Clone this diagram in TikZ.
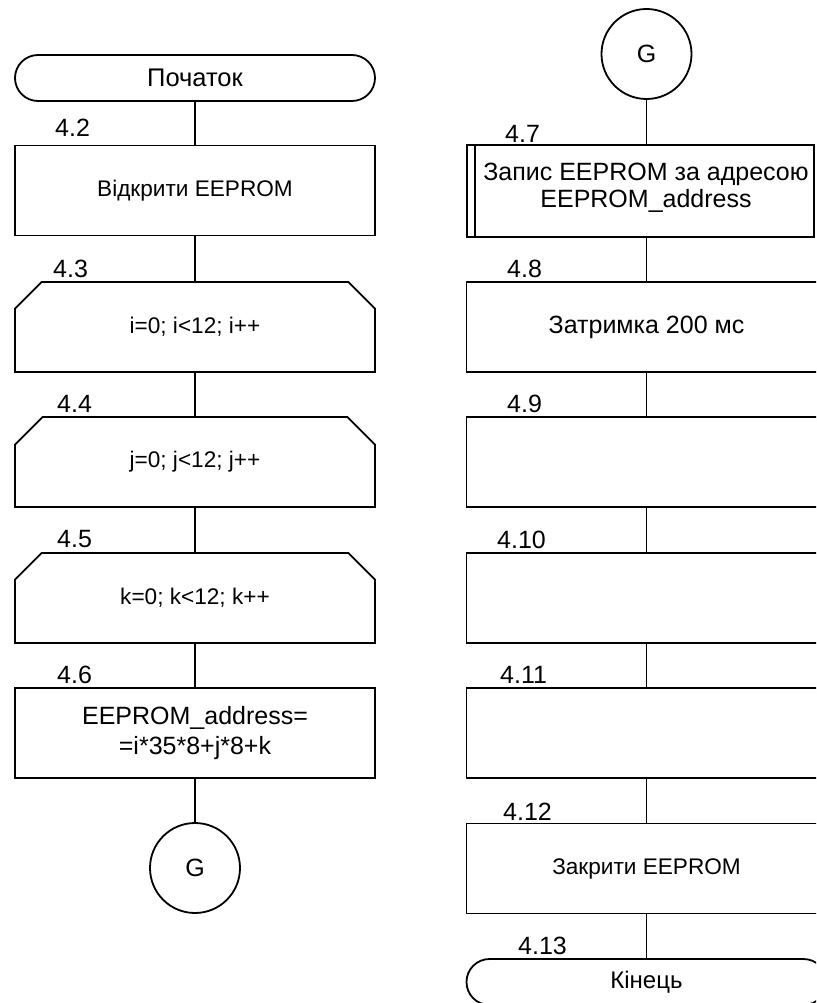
\documentclass[tikz,border=0pt]{standalone}
\usepackage{fontspec}
\setmainfont{Liberation Sans}
\usetikzlibrary{shapes.misc,calc}
\begin{document}
\begin{tikzpicture}[x=1pt,y=-1pt,
 every node/.style={font=\fontsize{25}{29}\selectfont},
 small/.style={font=\fontsize{22.6}{27}\selectfont},
 line/.style={line width=1.8pt},
 blk/.style={draw,line width=1.8pt,minimum width=360pt,minimum height=90pt,inner sep=0pt,align=center},
 term/.style={draw,line width=1.8pt,rounded corners=23pt,minimum width=360pt,minimum height=46pt,inner sep=0pt},
 loopA/.style={blk,chamfered rectangle,chamfered rectangle corners={north west,north east},chamfered rectangle sep=17pt},
 loopB/.style={blk,chamfered rectangle,chamfered rectangle corners={south west,south east},chamfered rectangle sep=17pt},
 conn/.style={draw,circle,line width=1.8pt,minimum size=90pt,inner sep=0pt},
 lbl/.style={anchor=base west,inner sep=0pt}]
\clip (0,0) rectangle (816,1003);
% left column
\node[term,font=\fontsize{25.5}{29}\selectfont] (start) at (195,78) {Початок};
\node[blk,small] (b2) at (195,190.5) {Відкрити EEPROM};
\node[loopA,small] (b3) at (195,327) {i=0; i<12; i++};
\node[loopA,small] (b4) at (195,462) {j=0; j<12; j++};
\node[loopA,small] (b5) at (195,598) {k=0; k<12; k++};
\node[blk,font=\fontsize{25}{30}\selectfont] (b6) at (195,733) {EEPROM\_address=\\=i*35*8+j*8+k};
\node[conn] (g1) at (195,868) {G};
% right column
\node[conn] (g2) at (646.5,54) {G};
\node[blk,minimum width=347pt,minimum height=92pt] (b7) at (640.5,191) {};
\draw[line] ($(b7.north west)+(9,0)$) -- ($(b7.south west)+(9,0)$);
\node[align=center,inner sep=0pt,font=\fontsize{25}{27}\selectfont] (t7) at (646,188) {Запис EEPROM за адресою\\EEPROM\_address};
\node[blk] (b8) at (646.5,327) {Затримка 200 мс};
\node[loopB] (b9) at (646.5,462) {};
\node[loopB] (b10) at (646.5,598) {};
\node[loopB] (b11) at (646.5,733) {};
\node[blk,small] (b12) at (646.5,868.5) {Закрити EEPROM};
\node[term,font=\fontsize{24}{28}\selectfont] (end) at (646.5,982) {Кінець};
% connectors
\draw[line] (start.south) -- (b2.north);
\draw[line] (b2.south) -- (b3.north);
\draw[line] (b3.south) -- (b4.north);
\draw[line] (b4.south) -- (b5.north);
\draw[line] (b5.south) -- (b6.north);
\draw[line] (b6.south) -- (g1.north);
\draw[line] (g2.south) -- (g2.south |- b7.north);
\draw[line] (b8.north |- b7.south) -- (b8.north);
\draw[line] (b8.south) -- (b9.north);
\draw[line] (b9.south) -- (b10.north);
\draw[line] (b10.south) -- (b11.north);
\draw[line] (b11.south) -- (b12.north);
\draw[line] (b12.south) -- (end.north);
% labels
\node[lbl] (l2) at (55,137) {4.2};
\node[lbl] (l3) at (53,277) {4.3};
\node[lbl] (l4) at (57,412) {4.4};
\node[lbl] (l5) at (57,547) {4.5};
\node[lbl] (l6) at (57,683) {4.6};
\node[lbl] (l7) at (505,143) {4.7};
\node[lbl] (l8) at (507,277) {4.8};
\node[lbl] (l9) at (507,412) {4.9};
\node[lbl] (l10) at (497,548) {4.10};
\node[lbl] (l11) at (500,683) {4.11};
\node[lbl] (l12) at (503,820) {4.12};
\node[lbl] (l13) at (518,954) {4.13};
\end{tikzpicture}
\end{document}
